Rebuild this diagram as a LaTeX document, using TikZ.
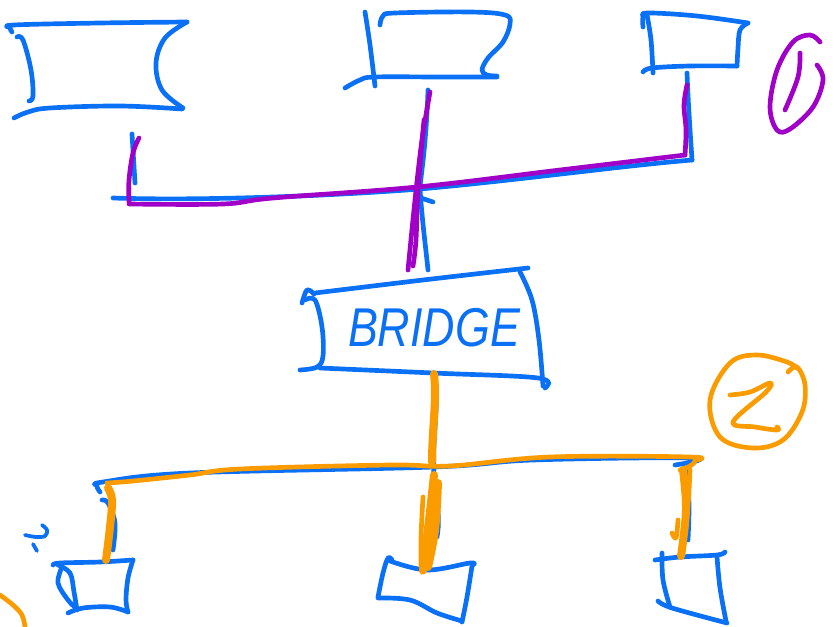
\documentclass[tikz,border=0pt]{standalone}
\usepackage{fontspec}
\newfontfamily\handfont{Liberation Sans}
\definecolor{inkblue}{RGB}{10,112,246}
\definecolor{inkpurple}{RGB}{160,0,200}
\definecolor{inkorange}{RGB}{250,156,0}
\begin{document}
\begin{tikzpicture}[x=0.75pt,y=-0.75pt,
  pen/.style={line width=3.5pt,line cap=round,line join=round},
  bluepen/.style={pen,draw=inkblue},
  purplepen/.style={pen,draw=inkpurple},
  orangepen/.style={pen,draw=inkorange},
  heavy/.style={line width=6pt},
  sm/.style={smooth,tension=0.6}]
\useasboundingbox[fill=white] (0,0) rectangle (838,627);

% ---------- named ports ----------
\coordinate (hostA-p) at (132,134);
\coordinate (hostB-p) at (428,90);
\coordinate (hostC-p) at (687,73);
\coordinate (busT-l) at (113,198);
\coordinate (busT-x) at (420,189);
\coordinate (busT-r) at (692,160);
\coordinate (bridge-n) at (428,270);
\coordinate (bridge-s) at (434,374);
\coordinate (busB-l) at (98,486);
\coordinate (busB-x) at (434,467);
\coordinate (busB-r) at (693,458);
\coordinate (hostD-p) at (108,560);
\coordinate (hostE-p) at (424,570);
\coordinate (hostF-p) at (681,556);

% ---------- segment 1 hosts ----------
% left host
\draw[bluepen] plot[sm] coordinates {(12,32) (10,28) (14,25) (100,23) (187,22)};
\draw[bluepen] plot[sm] coordinates {(187,22) (165,38) (156,63) (162,90) (183,108)};
\draw[bluepen] plot[sm] coordinates {(182,109) (120,106) (50,108) (28,112) (14,118)};
\draw[bluepen] plot[sm] coordinates {(17,37) (23,40) (31,70) (33,96) (29,101)};
% middle host
\draw[bluepen] plot[sm] coordinates {(365,12) (370,45) (375,86)};
\draw[bluepen] plot[sm] coordinates {(380,25) (383,16) (395,13) (470,12) (505,15) (510,24) (503,42) (488,58) (482,70) (487,75) (497,76)};
\draw[bluepen] plot[sm] coordinates {(345,88) (360,80) (375,77) (440,77) (497,77)};
% right host
\draw[bluepen] plot[sm] coordinates {(643,27) (643,17) (648,13) (697,16) (748,23)};
\draw[bluepen] plot[sm] coordinates {(748,23) (740,30) (738,48) (737,66)};
\draw[bluepen] plot[sm] coordinates {(737,66) (690,66) (652,68) (643,72)};
\draw[bluepen] plot[sm] coordinates {(647,15) (651,40) (653,73)};

% ---------- segment 1 wiring (blue) ----------
\draw[bluepen] (hostA-p) -- (135,183);
\draw[bluepen] (busT-l) .. controls (200,201) and (330,196) .. (busT-x) .. controls (520,180) and (620,166) .. (busT-r);
\draw[bluepen] (hostB-p) .. controls (426,150) and (420,180) .. (busT-x) .. controls (422,220) and (426,250) .. (bridge-n);
\draw[bluepen] (418,197) -- (433,202);
\draw[bluepen] (hostC-p) .. controls (688,100) and (690,130) .. (busT-r);

% ---------- segment 1 overlay (purple) ----------
\draw[purplepen] plot[sm] coordinates {(139,138) (133,153) (129,180) (129,202)};
\draw[purplepen] plot[sm] coordinates {(129,204) (223,204) (273,198) (417,187) (560,170) (685,155)};
\draw[purplepen] plot[sm] coordinates {(685,155) (686,130) (684,105) (687,85)};
\draw[purplepen] plot[sm] coordinates {(430,92) (422,140) (415,200) (408,270)};
\draw[purplepen] plot[sm] coordinates {(424,120) (418,190) (416,240) (413,266)};

% ---------- bridge ----------
\draw[bluepen] plot[sm] coordinates {(302,303) (307,290) (314,294)};
\draw[bluepen] plot[sm] coordinates {(315,293) (423,280) (528,268)};
\draw[bluepen] plot[sm] coordinates {(520,272) (532,300) (539,340) (543,386)};
\draw[bluepen] plot[sm] coordinates {(305,300) (315,300) (322,327) (323,356) (317,367) (300,370)};
\draw[bluepen] plot[sm] coordinates {(320,368) (433,373) (538,378) (545,388)};
\node[text=inkblue,font=\handfont\itshape\fontsize{41}{41}\selectfont,xscale=0.82,inner sep=0pt] (bridge) at (434,328) {BRIDGE};

% ---------- segment 2 wiring (blue) ----------
\draw[bluepen] (bridge-s) .. controls (440,400) and (432,440) .. (busB-x) .. controls (432,490) and (442,510) .. (437,537);
\draw[bluepen] plot[sm] coordinates {(100,492) (97,486) (103,482) (190,473) (busB-x) (533,460) (busB-r) (675,465)};
\draw[bluepen] plot[sm] coordinates {(102,500) (108,503) (115,523) (113,550)};
\draw[bluepen] plot[sm] coordinates {(687,470) (689,505) (688,540)};

% ---------- segment 2 hosts ----------
% left host
\draw[bluepen] plot[sm] coordinates {(53,565) (60,563) (100,562) (133,560)};
\draw[bluepen] plot[sm] coordinates {(133,560) (128,578) (126,600) (128,612)};
\draw[bluepen] plot[sm] coordinates {(128,612) (110,607) (83,608) (68,613)};
\draw[bluepen] plot[sm] coordinates {(58,565) (70,573) (74,592) (77,610)};
\draw[bluepen] plot[sm] coordinates {(62,567) (58,583) (68,600) (76,608)};
% middle host
\draw[bluepen] plot[sm] coordinates {(392,560) (388,558) (383,573) (378,597)};
\draw[bluepen] plot[sm] coordinates {(390,561) (427,570) (470,563) (473,565)};
\draw[bluepen] plot[sm] coordinates {(378,598) (410,600) (437,613) (462,621)};
\draw[bluepen] plot[sm] coordinates {(472,566) (467,597) (462,622)};
% right host
\draw[bluepen] plot[sm] coordinates {(655,560) (680,557) (717,555) (725,552)};
\draw[bluepen] plot[sm] coordinates {(662,553) (663,580) (670,607)};
\draw[bluepen] plot[sm] coordinates {(658,601) (672,608) (727,623)};
\draw[bluepen] plot[sm] coordinates {(717,557) (720,588) (726,621)};

% ---------- segment 2 overlay (orange) ----------
\draw[orangepen] plot[sm] coordinates {(107,483) (133,481) (190,475) (240,469) (390,465) (450,466) (550,457) (690,457) (695,461) (690,466) (680,470)};
\draw[orangepen,heavy] (bridge-s) .. controls (437,400) and (432,430) .. (432,462);
\draw[orangepen,heavy] plot[sm] coordinates {(108,488) (112,500) (110,527) (106,560)};
\draw[orangepen,heavy] plot[sm] coordinates {(683,470) (686,510) (681,556)};
\draw[orangepen] plot[sm] coordinates {(690,470) (688,505) (683,552)};
\draw[orangepen] plot[sm] coordinates {(672,533) (676,538) (678,520)};
\draw[orangepen,heavy] plot[sm] coordinates {(434,475) (429,520) (423,570)};
\draw[orangepen,heavy] plot[sm] coordinates {(438,483) (435,530) (428,567)};
\draw[orangepen] plot[sm] coordinates {(423,497) (421,540) (422,572) (430,560)};

% ---------- annotations ----------
\draw[purplepen] plot[sm] coordinates {(820,42) (810,35) (793,42) (777,70) (770,107) (777,130) (790,129) (813,107) (823,80) (817,65)};
\draw[purplepen] plot[sm] coordinates {(800,53) (798,77) (785,110)};
\draw[orangepen] plot[sm] coordinates {(788,372) (797,367) (805,385) (802,412) (783,440) (753,448) (720,437) (710,400) (730,363) (757,355) (787,362) (797,368)};
\draw[orangepen] plot[sm] coordinates {(730,395) (750,392) (770,383) (766,392) (733,422) (755,427) (777,430) (777,427)};
\draw[orangepen] plot[sm] coordinates {(0,595) (13,605) (22,615) (25,627)};
\draw[bluepen,line width=2.8pt] plot[sm] coordinates {(25,535) (36,537) (45,536) (47,530) (42,525)};
\draw[bluepen,line width=2.8pt] (33,544) -- (37,551);
\end{tikzpicture}
\end{document}
